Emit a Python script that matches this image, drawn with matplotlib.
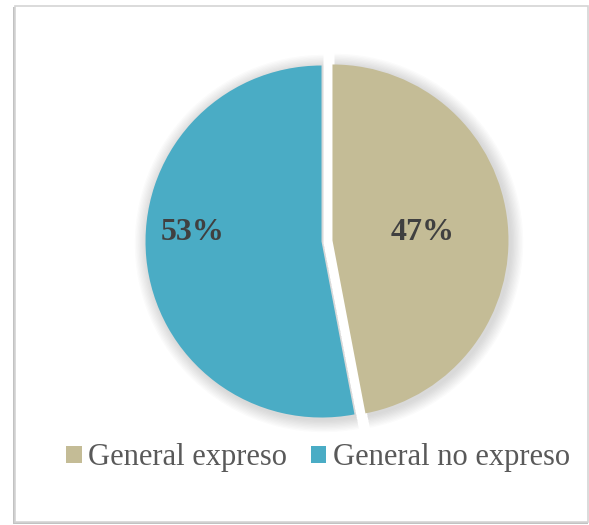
import matplotlib.pyplot as plt
from matplotlib.patches import Rectangle, Wedge, Patch
import numpy as np

labels = ["General expreso", "General no expreso"]
values = [47, 53]
colors = ["#C4BC96", "#4AACC5"]

W, H = 589, 525
fig = plt.figure(figsize=(W / 100, H / 100), dpi=100)
fig.patch.set_facecolor("white")
ax = fig.add_axes([0, 0, 1, 1])
ax.set_xlim(0, W)
ax.set_ylim(0, H)
ax.set_aspect("equal")
ax.axis("off")

# frame with a little shadow on the left / bottom
ax.add_patch(Rectangle((13, 1), 575, 517, facecolor="#9a9a9a", edgecolor="none", alpha=0.6, zorder=0))
ax.add_patch(Rectangle((15, 3), 573, 516, facecolor="white", edgecolor="#d4d4d4", lw=1.2, zorder=0.5))

cx, cy, R = 327, H - 241, 176
# explode is in data units here (pixels)
explode = [5.5, 5.5]

# soft shadow behind the slices
total = sum(values)
start = 90
for v, ex in zip(values, explode):
    ang = v / total * 360
    mid = np.deg2rad(start - ang / 2)
    ox, oy = cx + ex * np.cos(mid), cy + ex * np.sin(mid)
    for k in range(10):
        ax.add_patch(Wedge((ox + 2, oy - 2), R + 1 + k * 1.3, start - ang, start,
                           facecolor="#606060", edgecolor="none", alpha=0.025, zorder=1))
    start -= ang

wedges, texts, autotexts = ax.pie(values, colors=colors, startangle=90, counterclock=False,
                                  explode=explode, center=(cx, cy), radius=R,
                                  autopct="%1.0f%%", pctdistance=0.6,
                                  textprops=dict(family="Liberation Serif", fontsize=23,
                                                 fontweight="bold", color="#404040"))
ax.set_xlim(0, W)
ax.set_ylim(0, H)
for w in wedges:
    w.set_zorder(2)

# label placement as in the original
autotexts[0].set_position((423, H - 232))
autotexts[1].set_position((193, H - 232))
for t in autotexts:
    t.set_zorder(3)

handles = [Patch(facecolor=c, edgecolor="none") for c in colors]
leg = fig.legend(handles, labels, loc="center", bbox_to_anchor=(0.54, 1 - 458 / H), ncol=2,
                 frameon=False, handlelength=0.5, handleheight=0.5, handletextpad=0.2,
                 columnspacing=0.8, prop=dict(family="Liberation Serif", size=22))
for t in leg.get_texts():
    t.set_color("#595959")

fig.savefig("out.png", dpi=100)
